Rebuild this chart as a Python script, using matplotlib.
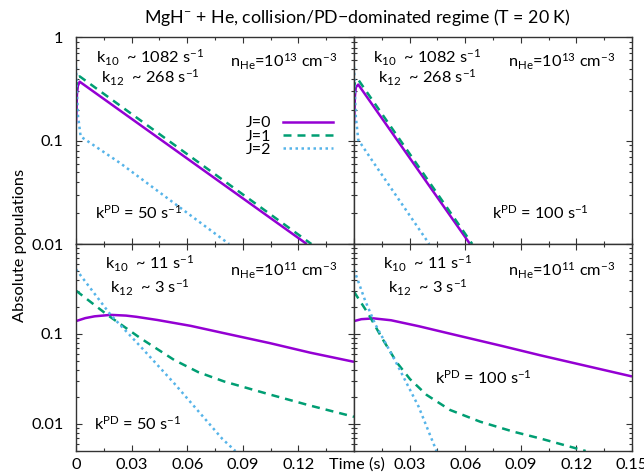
import matplotlib
matplotlib.use("Agg")
import matplotlib.pyplot as plt
from matplotlib.ticker import FixedLocator, NullFormatter, LogLocator
from matplotlib.lines import Line2D

plt.rcParams['font.family'] = ['Lato', 'DejaVu Sans']
plt.rcParams['mathtext.fontset'] = 'custom'
plt.rcParams['mathtext.rm'] = 'Lato'
plt.rcParams['mathtext.it'] = 'Lato:italic'
plt.rcParams['mathtext.bf'] = 'Lato:bold'
plt.rcParams['font.size'] = 11.8

# ---------------- data (time in s, absolute populations) ----------------
# top-left: n_He = 1e13 cm^-3, k_PD = 50 s^-1
tl_t0 = [0, 0.0005, 0.001, 0.002, 0.1245]
tl_j0 = [0.145, 0.28, 0.34, 0.373, 0.01]
tl_t1 = [0, 0.0005, 0.001, 0.002, 0.127]
tl_j1 = [0.31, 0.38, 0.41, 0.42, 0.01]
tl_t2 = [0, 0.0005, 0.001, 0.0025, 0.0237, 0.0826]
tl_j2 = [0.52, 0.30, 0.18, 0.11, 0.061, 0.01]

# top-right: n_He = 1e13 cm^-3, k_PD = 100 s^-1
tr_t0 = [0, 0.0005, 0.001, 0.0023, 0.0626]
tr_j0 = [0.145, 0.27, 0.33, 0.35, 0.01]
tr_t1 = [0, 0.0005, 0.001, 0.0023, 0.0638]
tr_j1 = [0.31, 0.37, 0.39, 0.39, 0.01]
tr_t2 = [0, 0.0005, 0.001, 0.0023, 0.0104, 0.0406]
tr_j2 = [0.52, 0.29, 0.17, 0.102, 0.062, 0.01]

# bottom-left: n_He = 1e11 cm^-3, k_PD = 50 s^-1
bl_t0 = [0, 0.005, 0.01, 0.0187, 0.027, 0.0327, 0.0439, 0.0619, 0.0799, 0.1047, 0.1263, 0.15]
bl_j0 = [0.139, 0.150, 0.157, 0.163, 0.160, 0.155, 0.143, 0.123, 0.102, 0.079, 0.062, 0.049]
bl_t1 = [0, 0.0169, 0.0349, 0.0529, 0.066, 0.08, 0.1047, 0.1263, 0.15]
bl_j1 = [0.303, 0.163, 0.0894, 0.0515, 0.0376, 0.0296, 0.0212, 0.016, 0.012]
bl_t2 = [0, 0.0187, 0.0349, 0.0529, 0.079, 0.086]
bl_j2 = [0.523, 0.163, 0.0722, 0.0284, 0.0068, 0.005]

# bottom-right: n_He = 1e11 cm^-3, k_PD = 100 s^-1
br_t0 = [0, 0.004, 0.0106, 0.02, 0.0349, 0.0529, 0.0799, 0.1004, 0.125, 0.15]
br_j0 = [0.139, 0.146, 0.149, 0.142, 0.122, 0.0995, 0.0735, 0.058, 0.0443, 0.0337]
br_t1 = [0, 0.0079, 0.0151, 0.023, 0.0302, 0.0392, 0.0518, 0.068, 0.086, 0.1004, 0.125]
br_j1 = [0.295, 0.165, 0.09, 0.0485, 0.0315, 0.021, 0.0143, 0.0106, 0.0082, 0.0069, 0.005]
br_t2 = [0, 0.006, 0.0115, 0.0223, 0.0349, 0.0445]
br_j2 = [0.52, 0.235, 0.128, 0.05, 0.0155, 0.005]

labels = ["J=0", "J=1", "J=2"]
colors = ["#9400d3", "#009e73", "#56b4e9"]
styles = ["-", (0, (3.2, 2.4)), (0, (1.0, 1.4))]

x_ticks = [0, 0.03, 0.06, 0.09, 0.12, 0.15]
x_labels_left = ["0", "0.03", "0.06", "0.09", "0.12", ""]
x_labels_right = ["", "0.03", "0.06", "0.09", "0.12", "0.15"]

panels = [
    dict(t=[tl_t0, tl_t1, tl_t2], y=[tl_j0, tl_j1, tl_j2], ylim=(0.01, 1),
         k10="1082", k12="268", n="13", kpd="50"),
    dict(t=[tr_t0, tr_t1, tr_t2], y=[tr_j0, tr_j1, tr_j2], ylim=(0.01, 1),
         k10="1082", k12="268", n="13", kpd="100"),
    dict(t=[bl_t0, bl_t1, bl_t2], y=[bl_j0, bl_j1, bl_j2], ylim=(0.005, 1),
         k10="11", k12="3", n="11", kpd="50"),
    dict(t=[br_t0, br_t1, br_t2], y=[br_j0, br_j1, br_j2], ylim=(0.005, 1),
         k10="11", k12="3", n="11", kpd="100"),
]

W, H = 644, 473
fig = plt.figure(figsize=(W / 100, H / 100), dpi=100)

def rect(x0, y0, x1, y1):
    return [x0 / W, 1 - y1 / H, (x1 - x0) / W, (y1 - y0) / H]

rects = [rect(76, 37.5, 354, 244), rect(354, 37.5, 632, 244),
         rect(76, 244, 354, 451), rect(354, 244, 632, 451)]

# text positions (axes fractions)
kpd_pos = [(0.225, 0.150), (0.669, 0.150), (0.223, 0.133), (0.466, 0.353)]
k_top = [0.903, 0.903, 0.905, 0.905]
k_bot = [0.807, 0.807, 0.790, 0.790]
n_y = [0.881, 0.881, 0.870, 0.870]

frame_col = "#333333"
axes = []
for i, (p, r) in enumerate(zip(panels, rects)):
    ax = fig.add_axes(r)
    axes.append(ax)
    for tt, yy, c, ls in zip(p["t"], p["y"], colors, styles):
        ax.plot(tt, yy, color=c, ls=ls, lw=1.8, solid_capstyle='butt',
                dash_capstyle='butt')
    ax.set_yscale("log")
    ax.set_xlim(0, 0.15)
    ax.set_ylim(*p["ylim"])
    ax.xaxis.set_major_locator(FixedLocator(x_ticks))
    ax.xaxis.set_minor_locator(FixedLocator([0.015, 0.045, 0.075, 0.105, 0.135]))
    ax.yaxis.set_major_locator(LogLocator(base=10, numticks=10))
    ax.yaxis.set_minor_locator(LogLocator(base=10, subs=range(2, 10), numticks=10))
    ax.yaxis.set_minor_formatter(NullFormatter())
    ax.tick_params(which="both", direction="in", top=True, right=True,
                   color=frame_col, width=0.8)
    ax.tick_params(which="major", length=4.5, pad=5)
    ax.tick_params(which="minor", length=2.5)
    ax.tick_params(axis="y", which="major", pad=9)
    for s in ax.spines.values():
        s.set_color(frame_col)
        s.set_linewidth(1.0)
    if i < 2:
        ax.set_xticklabels([])
    elif i == 2:
        ax.set_xticklabels(x_labels_left)
    else:
        ax.set_xticklabels(x_labels_right)
    if i == 0:
        ax.yaxis.set_major_locator(FixedLocator([0.01, 0.1, 1]))
        ax.set_yticklabels(["0.01", "0.1", "1"])
    elif i == 2:
        ax.yaxis.set_major_locator(FixedLocator([0.01, 0.1, 1]))
        ax.set_yticklabels(["0.01", "0.1", ""])
    else:
        ax.set_yticklabels([])
    xc = 0.266 if i != 1 else 0.263
    ax.text(xc, k_top[i], r"k$_{10}$  ~ " + p["k10"] + r" s$^{-1}$",
            transform=ax.transAxes, ha="center", va="center")
    ax.text(xc, k_bot[i], r"k$_{12}$  ~ " + p["k12"] + r" s$^{-1}$",
            transform=ax.transAxes, ha="center", va="center")
    ax.text(0.746, n_y[i], r"n$_{\mathrm{He}}$=10$^{" + p["n"] + r"}$ cm$^{-3}$",
            transform=ax.transAxes, ha="center", va="center")
    ax.text(kpd_pos[i][0], kpd_pos[i][1],
            r"k$^{\mathrm{PD}}$ = " + p["kpd"] + r" s$^{-1}$",
            transform=ax.transAxes, ha="center", va="center")

handles = [Line2D([], [], color=c, ls=ls, lw=1.8) for c, ls in zip(colors, styles)]
axes[0].legend(handles, labels, loc="upper right",
               bbox_to_anchor=((333 - 76) / 278, 1 - (116 - 37.5) / 206.5),
               markerfirst=False, frameon=False, handlelength=3.1,
               handletextpad=0.75, labelspacing=-0.05, borderpad=0,
               borderaxespad=0, fontsize=11.5)

fig.text(357 / W, 1 - 18 / H,
         "MgH$^{-}$ + He, collision/PD\u2212dominated regime (T = 20 K)",
         ha="center", va="center", fontsize=12.8)
fig.text(357 / W, 1 - 465 / H, "Time (s)", ha="center", va="center")
fig.text(20 / W, 1 - 245 / H, "Absolute populations", ha="center",
         va="center", rotation=90)

fig.savefig("out.png", dpi=100)
